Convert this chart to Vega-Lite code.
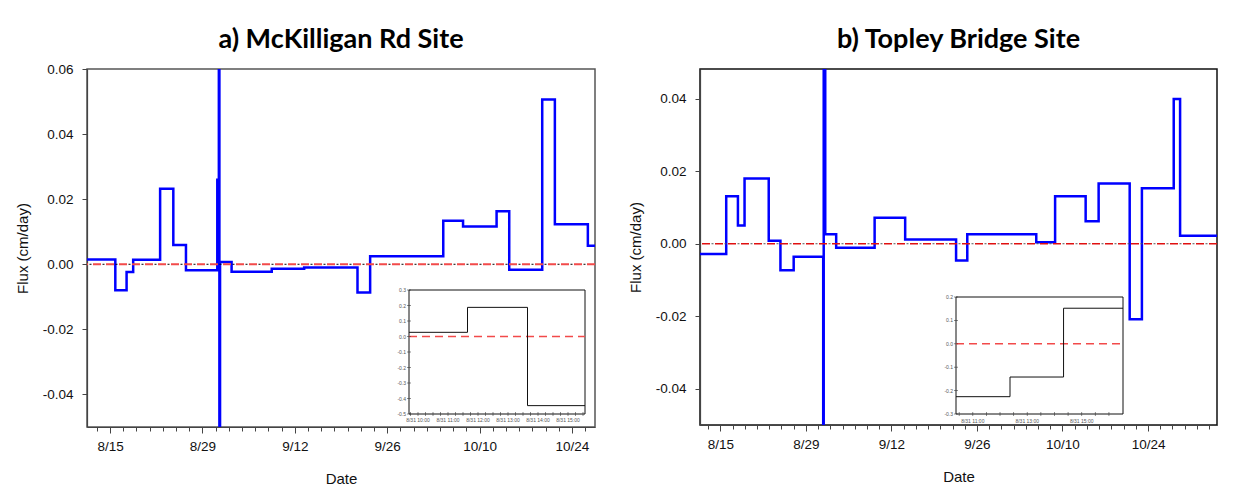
{
  "$schema": "https://vega.github.io/schema/vega-lite/v6.json",
  "padding": {"left": 14, "top": 25, "right": 5, "bottom": 0},
  "background": "white",
  "spacing": 30,
  "datasets": {
    "siteA": [
      {"date": "2020-08-11T00:00:00Z", "flux": 0.0015},
      {"date": "2020-08-15T19:00:00Z", "flux": -0.008},
      {"date": "2020-08-17T12:00:00Z", "flux": -0.0024},
      {"date": "2020-08-18T12:00:00Z", "flux": 0.0014},
      {"date": "2020-08-22T14:00:00Z", "flux": 0.0232},
      {"date": "2020-08-24T14:00:00Z", "flux": 0.0059},
      {"date": "2020-08-26T12:00:00Z", "flux": -0.0018},
      {"date": "2020-08-31T06:00:00Z", "flux": 0.026},
      {"date": "2020-08-31T11:39:00Z", "flux": 0.188},
      {"date": "2020-08-31T13:39:00Z", "flux": -0.446},
      {"date": "2020-08-31T16:00:00Z", "flux": 0.0007},
      {"date": "2020-09-02T10:00:00Z", "flux": -0.0023},
      {"date": "2020-09-08T12:00:00Z", "flux": -0.0014},
      {"date": "2020-09-13T10:00:00Z", "flux": -0.001},
      {"date": "2020-09-21T12:00:00Z", "flux": -0.0087},
      {"date": "2020-09-23T10:00:00Z", "flux": 0.0025},
      {"date": "2020-10-04T12:00:00Z", "flux": 0.0134},
      {"date": "2020-10-07T12:00:00Z", "flux": 0.0116},
      {"date": "2020-10-12T14:00:00Z", "flux": 0.0163},
      {"date": "2020-10-14T12:00:00Z", "flux": -0.0017},
      {"date": "2020-10-19T12:00:00Z", "flux": 0.0506},
      {"date": "2020-10-21T10:00:00Z", "flux": 0.0123},
      {"date": "2020-10-26T10:00:00Z", "flux": 0.0057},
      {"date": "2020-10-28T12:00:00Z", "flux": 0.0057}
    ],
    "insetA": [
      {"time": "2020-08-31T09:42:00Z", "flux": 0.027},
      {"time": "2020-08-31T11:39:00Z", "flux": 0.188},
      {"time": "2020-08-31T13:39:00Z", "flux": -0.446},
      {"time": "2020-08-31T15:34:00Z", "flux": -0.446}
    ],
    "insetAY": [
      {"v": -0.5, "label": "-0.5"}, {"v": -0.4, "label": "-0.4"}, {"v": -0.3, "label": "-0.3"},
      {"v": -0.2, "label": "-0.2"}, {"v": -0.1, "label": "-0.1"}, {"v": 0, "label": "0.0"},
      {"v": 0.1, "label": "0.1"}, {"v": 0.2, "label": "0.2"}, {"v": 0.3, "label": "0.3"}
    ],
    "insetAX": [
      {"t": "2020-08-31T09:45:00Z", "label": ""},
      {"t": "2020-08-31T10:00:00Z", "label": "8/31 10:00"},
      {"t": "2020-08-31T10:15:00Z", "label": ""},
      {"t": "2020-08-31T10:30:00Z", "label": ""},
      {"t": "2020-08-31T10:45:00Z", "label": ""},
      {"t": "2020-08-31T11:00:00Z", "label": "8/31 11:00"},
      {"t": "2020-08-31T11:15:00Z", "label": ""},
      {"t": "2020-08-31T11:30:00Z", "label": ""},
      {"t": "2020-08-31T11:45:00Z", "label": ""},
      {"t": "2020-08-31T12:00:00Z", "label": "8/31 12:00"},
      {"t": "2020-08-31T12:15:00Z", "label": ""},
      {"t": "2020-08-31T12:30:00Z", "label": ""},
      {"t": "2020-08-31T12:45:00Z", "label": ""},
      {"t": "2020-08-31T13:00:00Z", "label": "8/31 13:00"},
      {"t": "2020-08-31T13:15:00Z", "label": ""},
      {"t": "2020-08-31T13:30:00Z", "label": ""},
      {"t": "2020-08-31T13:45:00Z", "label": ""},
      {"t": "2020-08-31T14:00:00Z", "label": "8/31 14:00"},
      {"t": "2020-08-31T14:15:00Z", "label": ""},
      {"t": "2020-08-31T14:30:00Z", "label": ""},
      {"t": "2020-08-31T14:45:00Z", "label": ""},
      {"t": "2020-08-31T15:00:00Z", "label": "8/31 15:00"},
      {"t": "2020-08-31T15:15:00Z", "label": ""},
      {"t": "2020-08-31T15:30:00Z", "label": ""}
    ],
    "siteB": [
      {"date": "2020-08-11T00:00:00Z", "flux": -0.0028},
      {"date": "2020-08-15T23:00:00Z", "flux": 0.0131},
      {"date": "2020-08-17T21:00:00Z", "flux": 0.005},
      {"date": "2020-08-18T23:00:00Z", "flux": 0.018},
      {"date": "2020-08-22T22:00:00Z", "flux": 0.0008},
      {"date": "2020-08-24T20:00:00Z", "flux": -0.0073},
      {"date": "2020-08-27T00:00:00Z", "flux": -0.0036},
      {"date": "2020-08-31T20:00:00Z", "flux": -0.226},
      {"date": "2020-08-31T21:00:00Z", "flux": -0.142},
      {"date": "2020-08-31T22:00:00Z", "flux": 0.152},
      {"date": "2020-09-01T04:00:00Z", "flux": 0.0026},
      {"date": "2020-09-02T23:00:00Z", "flux": -0.0011},
      {"date": "2020-09-09T06:00:00Z", "flux": 0.0072},
      {"date": "2020-09-14T06:00:00Z", "flux": 0.0012},
      {"date": "2020-09-22T14:00:00Z", "flux": -0.0046},
      {"date": "2020-09-24T10:00:00Z", "flux": 0.0026},
      {"date": "2020-10-05T17:00:00Z", "flux": 0.0004},
      {"date": "2020-10-08T19:00:00Z", "flux": 0.0131},
      {"date": "2020-10-13T19:00:00Z", "flux": 0.0062},
      {"date": "2020-10-15T22:00:00Z", "flux": 0.0166},
      {"date": "2020-10-21T00:00:00Z", "flux": -0.0208},
      {"date": "2020-10-23T00:00:00Z", "flux": 0.0153},
      {"date": "2020-10-28T05:00:00Z", "flux": 0.0399},
      {"date": "2020-10-29T06:00:00Z", "flux": 0.0022},
      {"date": "2020-11-05T00:00:00Z", "flux": 0.0022}
    ],
    "insetB": [
      {"time": "2020-08-31T10:23:00Z", "flux": -0.226},
      {"time": "2020-08-31T12:22:00Z", "flux": -0.142},
      {"time": "2020-08-31T14:20:00Z", "flux": 0.152},
      {"time": "2020-08-31T16:31:00Z", "flux": 0.152}
    ],
    "insetBY": [
      {"v": -0.3, "label": "-0.3"}, {"v": -0.2, "label": "-0.2"}, {"v": -0.1, "label": "-0.1"},
      {"v": 0, "label": "0.0"}, {"v": 0.1, "label": "0.1"}, {"v": 0.2, "label": "0.2"}
    ],
    "insetBX": [
      {"t": "2020-08-31T10:30:00Z", "label": ""},
      {"t": "2020-08-31T11:00:00Z", "label": "8/31 11:00"},
      {"t": "2020-08-31T11:30:00Z", "label": ""},
      {"t": "2020-08-31T12:00:00Z", "label": ""},
      {"t": "2020-08-31T12:30:00Z", "label": ""},
      {"t": "2020-08-31T13:00:00Z", "label": "8/31 13:00"},
      {"t": "2020-08-31T13:30:00Z", "label": ""},
      {"t": "2020-08-31T14:00:00Z", "label": ""},
      {"t": "2020-08-31T14:30:00Z", "label": ""},
      {"t": "2020-08-31T15:00:00Z", "label": "8/31 15:00"},
      {"t": "2020-08-31T15:30:00Z", "label": ""},
      {"t": "2020-08-31T16:00:00Z", "label": ""}
    ]
  },
  "hconcat": [
    {
      "width": 508,
      "height": 358,
      "title": {"text": "a) McKilligan Rd Site", "offset": 8},
      "view": {"stroke": "#555", "strokeWidth": 1.5},
      "layer": [
        {
          "layer": [
            {
              "data": {"name": "siteA"},
              "mark": {"type": "line", "interpolate": "step-after", "color": "#0000ff", "strokeWidth": 2.5, "clip": true},
              "encoding": {
                "x": {
                  "field": "date", "type": "temporal",
                  "scale": {"type": "utc", "domain": [1597147200000, 1603800000000], "nice": false},
                  "axis": {
                    "title": "Date",
                    "values": [1597276800000, 1597449600000, 1597622400000, 1597795200000, 1597968000000, 1598140800000, 1598313600000, 1598486400000, 1598659200000, 1598832000000, 1599004800000, 1599177600000, 1599350400000, 1599523200000, 1599696000000, 1599868800000, 1600041600000, 1600214400000, 1600387200000, 1600560000000, 1600732800000, 1600905600000, 1601078400000, 1601251200000, 1601424000000, 1601596800000, 1601769600000, 1601942400000, 1602115200000, 1602288000000, 1602460800000, 1602633600000, 1602806400000, 1602979200000, 1603152000000, 1603324800000, 1603497600000, 1603670400000],
                    "labelExpr": "(time(datum.value) - 1597449600000) % 1209600000 == 0 ? utcFormat(datum.value, '%-m/%-d') : ''",
                    "tickSize": {"condition": {"test": "(time(datum.value) - 1597449600000) % 1209600000 == 0", "value": 6}, "value": 4},
                    "labelOverlap": false, "labelFlush": false,
                    "labelFontSize": 13.5, "labelPadding": 6,
                    "titleFontSize": 15, "titlePadding": 19
                  }
                },
                "y": {
                  "field": "flux", "type": "quantitative",
                  "scale": {"domain": [-0.05, 0.06], "nice": false, "zero": false},
                  "axis": {
                    "title": "Flux (cm/day)",
                    "values": [-0.04, -0.02, 0, 0.02, 0.04, 0.06],
                    "labelExpr": "datum.value < 0 ? '-' + format(-datum.value, '.2f') : format(datum.value, '.2f')",
                    "tickSize": 5, "labelFontSize": 13.5, "labelPadding": 9,
                    "titleFontSize": 15, "titlePadding": 12
                  }
                }
              }
            },
            {
              "data": {"values": [{}]},
              "mark": {"type": "rule", "color": "#000000", "strokeWidth": 1, "strokeDash": [2, 11], "strokeDashOffset": 3.5},
              "encoding": {"y": {"datum": 0, "type": "quantitative"}}
            },
            {
              "data": {"values": [{}]},
              "mark": {"type": "rule", "color": "#f24a4a", "strokeWidth": 1.8, "strokeDash": [8, 5]},
              "encoding": {"y": {"datum": 0, "type": "quantitative"}}
            }
          ]
        },
        {
          "layer": [
            {
              "data": {"values": [{}]},
              "mark": {"type": "rect", "fill": "white", "stroke": "#111", "strokeWidth": 1},
              "encoding": {
                "x": {"datum": 1598866920000, "type": "temporal",
                  "scale": {"type": "utc", "domain": [1598866920000, 1598888040000], "range": [322, 498], "nice": false},
                  "axis": null},
                "x2": {"datum": 1598888040000},
                "y": {"datum": -0.5, "type": "quantitative",
                  "scale": {"domain": [-0.5, 0.3], "range": [345, 221], "nice": false, "zero": false},
                  "axis": null},
                "y2": {"datum": 0.3}
              }
            },
            {
              "data": {"values": [{}]},
              "mark": {"type": "rule", "color": "#f24a4a", "strokeWidth": 1.5, "strokeDash": [8, 5]},
              "encoding": {
                "x": {"datum": 1598866920000, "type": "temporal", "axis": null},
                "x2": {"datum": 1598888040000},
                "y": {"datum": 0, "type": "quantitative", "axis": null}
              }
            },
            {
              "data": {"name": "insetA"},
              "mark": {"type": "line", "interpolate": "step-after", "color": "#111", "strokeWidth": 1},
              "encoding": {
                "x": {"field": "time", "type": "temporal", "axis": null},
                "y": {"field": "flux", "type": "quantitative", "axis": null}
              }
            },
            {
              "data": {"name": "insetAY"},
              "mark": {"type": "tick", "orient": "horizontal", "size": 4, "thickness": 0.8, "color": "#333"},
              "encoding": {
                "x": {"datum": 1598866920000, "type": "temporal", "axis": null},
                "y": {"field": "v", "type": "quantitative", "axis": null}
              }
            },
            {
              "data": {"name": "insetAY"},
              "mark": {"type": "text", "align": "right", "baseline": "middle", "dx": -3, "fontSize": 5, "font": "Liberation Sans", "color": "#555"},
              "encoding": {
                "x": {"datum": 1598866920000, "type": "temporal", "axis": null},
                "y": {"field": "v", "type": "quantitative", "axis": null},
                "text": {"field": "label"}
              }
            },
            {
              "data": {"name": "insetAX"},
              "mark": {"type": "tick", "orient": "vertical", "size": 4, "thickness": 0.8, "color": "#333"},
              "encoding": {
                "x": {"field": "t", "type": "temporal", "axis": null},
                "y": {"datum": -0.5, "type": "quantitative", "axis": null}
              }
            },
            {
              "data": {"name": "insetAX"},
              "mark": {"type": "text", "align": "center", "baseline": "top", "dy": 4, "fontSize": 5, "font": "Liberation Sans", "color": "#555"},
              "encoding": {
                "x": {"field": "t", "type": "temporal", "axis": null},
                "y": {"datum": -0.5, "type": "quantitative", "axis": null},
                "text": {"field": "label"}
              }
            }
          ]
        }
      ],
      "resolve": {"scale": {"x": "independent", "y": "independent"}, "axis": {"x": "independent", "y": "independent"}}
    },
    {
      "width": 517,
      "height": 356,
      "title": {"text": "b) Topley Bridge Site", "offset": 15},
      "view": {"stroke": "#111", "strokeWidth": 1.5},
      "layer": [
        {
          "layer": [
            {
              "data": {"name": "siteB"},
              "mark": {"type": "line", "interpolate": "step-after", "color": "#0000ff", "strokeWidth": 2.5, "clip": true},
              "encoding": {
                "x": {
                  "field": "date", "type": "temporal",
                  "scale": {"type": "utc", "domain": [1597161600000, 1604473200000], "nice": false},
                  "axis": {
                    "title": "Date",
                    "values": [1597276800000, 1597449600000, 1597622400000, 1597795200000, 1597968000000, 1598140800000, 1598313600000, 1598486400000, 1598659200000, 1598832000000, 1599004800000, 1599177600000, 1599350400000, 1599523200000, 1599696000000, 1599868800000, 1600041600000, 1600214400000, 1600387200000, 1600560000000, 1600732800000, 1600905600000, 1601078400000, 1601251200000, 1601424000000, 1601596800000, 1601769600000, 1601942400000, 1602115200000, 1602288000000, 1602460800000, 1602633600000, 1602806400000, 1602979200000, 1603152000000, 1603324800000, 1603497600000, 1603670400000, 1603843200000, 1604016000000, 1604188800000, 1604361600000],
                    "labelExpr": "(time(datum.value) - 1597449600000) % 1209600000 == 0 ? utcFormat(datum.value, '%-m/%-d') : ''",
                    "tickSize": {"condition": {"test": "(time(datum.value) - 1597449600000) % 1209600000 == 0", "value": 6}, "value": 4},
                    "labelOverlap": false, "labelFlush": false,
                    "labelFontSize": 13.5, "labelPadding": 6,
                    "titleFontSize": 15, "titlePadding": 19
                  }
                },
                "y": {
                  "field": "flux", "type": "quantitative",
                  "scale": {"domain": [-0.05, 0.0482], "nice": false, "zero": false},
                  "axis": {
                    "title": "Flux (cm/day)",
                    "values": [-0.04, -0.02, 0, 0.02, 0.04],
                    "labelExpr": "datum.value < 0 ? '-' + format(-datum.value, '.2f') : format(datum.value, '.2f')",
                    "tickSize": 5, "labelFontSize": 13.5, "labelPadding": 9,
                    "titleFontSize": 15, "titlePadding": 12
                  }
                }
              }
            },
            {
              "data": {"values": [{}]},
              "mark": {"type": "rule", "color": "#555555", "strokeWidth": 1, "strokeDash": [2, 11], "strokeDashOffset": 3.5},
              "encoding": {"y": {"datum": 0, "type": "quantitative"}}
            },
            {
              "data": {"values": [{}]},
              "mark": {"type": "rule", "color": "#e01010", "strokeWidth": 1.6, "strokeDash": [8, 5]},
              "encoding": {"y": {"datum": 0, "type": "quantitative"}}
            }
          ]
        },
        {
          "layer": [
            {
              "data": {"values": [{}]},
              "mark": {"type": "rect", "fill": "white", "stroke": "#111", "strokeWidth": 1},
              "encoding": {
                "x": {"datum": 1598869380000, "type": "temporal",
                  "scale": {"type": "utc", "domain": [1598869380000, 1598891460000], "range": [256, 423], "nice": false},
                  "axis": null},
                "x2": {"datum": 1598891460000},
                "y": {"datum": -0.3, "type": "quantitative",
                  "scale": {"domain": [-0.3, 0.2], "range": [345, 228], "nice": false, "zero": false},
                  "axis": null},
                "y2": {"datum": 0.2}
              }
            },
            {
              "data": {"values": [{}]},
              "mark": {"type": "rule", "color": "#f24a4a", "strokeWidth": 1.5, "strokeDash": [8, 5]},
              "encoding": {
                "x": {"datum": 1598869380000, "type": "temporal", "axis": null},
                "x2": {"datum": 1598891460000},
                "y": {"datum": 0, "type": "quantitative", "axis": null}
              }
            },
            {
              "data": {"name": "insetB"},
              "mark": {"type": "line", "interpolate": "step-after", "color": "#111", "strokeWidth": 1},
              "encoding": {
                "x": {"field": "time", "type": "temporal", "axis": null},
                "y": {"field": "flux", "type": "quantitative", "axis": null}
              }
            },
            {
              "data": {"name": "insetBY"},
              "mark": {"type": "tick", "orient": "horizontal", "size": 4, "thickness": 0.8, "color": "#333"},
              "encoding": {
                "x": {"datum": 1598869380000, "type": "temporal", "axis": null},
                "y": {"field": "v", "type": "quantitative", "axis": null}
              }
            },
            {
              "data": {"name": "insetBY"},
              "mark": {"type": "text", "align": "right", "baseline": "middle", "dx": -3, "fontSize": 5, "font": "Liberation Sans", "color": "#555"},
              "encoding": {
                "x": {"datum": 1598869380000, "type": "temporal", "axis": null},
                "y": {"field": "v", "type": "quantitative", "axis": null},
                "text": {"field": "label"}
              }
            },
            {
              "data": {"name": "insetBX"},
              "mark": {"type": "tick", "orient": "vertical", "size": 4, "thickness": 0.8, "color": "#333"},
              "encoding": {
                "x": {"field": "t", "type": "temporal", "axis": null},
                "y": {"datum": -0.3, "type": "quantitative", "axis": null}
              }
            },
            {
              "data": {"name": "insetBX"},
              "mark": {"type": "text", "align": "center", "baseline": "top", "dy": 5, "fontSize": 5, "font": "Liberation Sans", "color": "#555"},
              "encoding": {
                "x": {"field": "t", "type": "temporal", "axis": null},
                "y": {"datum": -0.3, "type": "quantitative", "axis": null},
                "text": {"field": "label"}
              }
            }
          ]
        }
      ],
      "resolve": {"scale": {"x": "independent", "y": "independent"}, "axis": {"x": "independent", "y": "independent"}}
    }
  ],
  "config": {
    "axis": {
      "labelFont": "Liberation Sans", "titleFont": "Liberation Sans",
      "labelColor": "#111", "titleColor": "#111", "titleFontWeight": "normal",
      "grid": false, "domainColor": "#444", "tickColor": "#444", "domainWidth": 1.2
    },
    "title": {"font": "Lato, sans-serif", "fontSize": 27, "fontWeight": "bold", "color": "#000", "anchor": "middle"}
  }
}
